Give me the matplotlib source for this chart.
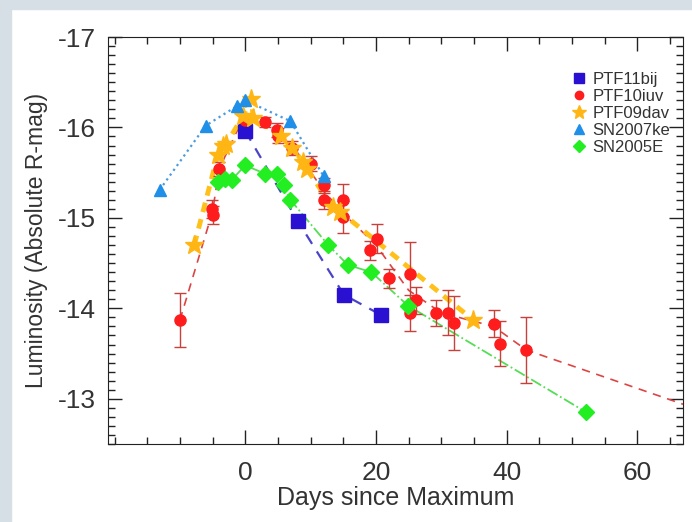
import numpy as np
import matplotlib
matplotlib.use('Agg')
import matplotlib.pyplot as plt
from matplotlib.patches import Rectangle

plt.rcParams['font.family'] = ['Liberation Sans', 'DejaVu Sans']

# PTF11bij
bij_day = [0.0, 8.0, 15.1, 20.7]
bij_mag = [-15.96, -14.97, -14.15, -13.93]

# PTF10iuv (with errors)
iuv_day = [-10.0, -5.1, -5.0, -4.0, 0.0, 3.0, 4.9, 5.0, 7.1, 10.1, 12.0, 12.0, 15.0, 15.0,
           19.1, 20.2, 22.0, 25.2, 25.2, 26.1, 29.2, 31.1, 32.0, 38.0, 39.0, 42.9]
iuv_mag = [-13.87, -15.10, -15.03, -15.54, -16.08, -16.06, -15.97, -15.91, -15.77, -15.60,
           -15.36, -15.20, -15.20, -15.01, -14.64, -14.77, -14.33, -14.38, -13.95, -14.09,
           -13.95, -13.95, -13.84, -13.83, -13.61, -13.54]
iuv_err = [0.30, 0.10, 0.10, 0.08, 0.06, 0.06, 0.08, 0.08, 0.08, 0.08,
           0.08, 0.10, 0.18, 0.18, 0.10, 0.16, 0.10, 0.35, 0.20, 0.15,
           0.14, 0.25, 0.30, 0.15, 0.25, 0.36]
# red dashed curve
iuv_line_day = [-10.0, -5.0, -4.0, -1.0, 2.0, 5.0, 8.0, 12.0, 15.0, 20.0, 25.0, 30.0, 38.0, 43.0, 67.0]
iuv_line_mag = [-13.87, -15.07, -15.54, -16.0, -16.08, -15.95, -15.72, -15.30, -15.05, -14.70,
                -14.20, -13.95, -13.80, -13.54, -12.94]

# PTF09dav
dav_day = [-7.8, -4.2, -3.4, -2.9, -0.3, 0.95, 1.2, 5.5, 7.1, 8.9, 9.4, 13.4, 14.5, 34.9]
dav_mag = [-14.70, -15.70, -15.80, -15.82, -16.13, -16.32, -16.11, -15.91, -15.77, -15.62,
           -15.54, -15.12, -15.07, -13.87]

# SN2007ke
ke_day = [-13.1, -6.05, -1.2, 0.0, 6.9, 12.0]
ke_mag = [-15.31, -16.02, -16.24, -16.30, -16.07, -15.46]

# SN2005E
e_day = [-4.2, -3.1, -2.1, 0.0, 3.0, 4.9, 5.9, 6.9, 12.7, 15.7, 19.3, 24.9, 52.2]
e_mag = [-15.40, -15.43, -15.42, -15.58, -15.49, -15.49, -15.36, -15.20, -14.70, -14.48,
         -14.40, -14.03, -12.85]

fig = plt.figure(figsize=(6.92, 5.22), dpi=100)
fig.patches.append(Rectangle((0, 0), 11/692, 1, transform=fig.transFigure,
                             color='#d6dee6', zorder=0))
fig.patches.append(Rectangle((0, 1 - 9/522), 1, 9/522, transform=fig.transFigure,
                             color='#d6dee6', zorder=0))
ax = fig.add_axes([0.1561, 0.1494, 0.831, 0.7797])

ax.plot(iuv_line_day, iuv_line_mag, ls=(0, (5, 4)), c='#dd4444', lw=1.2, zorder=2)
ax.plot(bij_day, bij_mag, ls=(0, (5, 4)), c='#4a45c8', lw=1.6, zorder=2)
ax.plot(ke_day, ke_mag, ls=':', c='#4a9be0', lw=1.6, zorder=2)
ax.plot(e_day, e_mag, ls='-.', c='#55dd55', lw=1.3, zorder=2)
ax.plot(dav_day, dav_mag, ls=(0, (2, 1.5)), c='#ffc01a', lw=3.5, zorder=3)

ax.errorbar(iuv_day, iuv_mag, yerr=iuv_err, fmt='none', ecolor='#c8403a',
            elinewidth=1.0, capsize=4, zorder=4)

ax.plot(bij_day, bij_mag, 's', c='#2a10d0', ms=10, ls='none', label='PTF11bij', zorder=5)
ax.plot(iuv_day, iuv_mag, 'o', c='#ff1c1c', ms=8, ls='none', label='PTF10iuv', zorder=5)
ax.plot(dav_day, dav_mag, '*', c='#ffb614', ms=14, ls='none', label='PTF09dav', zorder=5)
ax.plot(ke_day, ke_mag, '^', c='#1f8fe8', ms=9, ls='none', label='SN2007ke', zorder=5)
ax.plot(e_day, e_mag, 'D', c='#22ee22', ms=8, ls='none', label='SN2005E', zorder=5)

ax.set_xlim(-21, 67)
ax.set_ylim(-12.5, -17)
ax.set_xticks([0, 20, 40, 60])
ax.set_xticks(np.arange(-20, 67, 5), minor=True)
ax.set_yticks([-17, -16, -15, -14, -13])
ax.set_yticks(np.arange(-17, -12.45, 0.1), minor=True)
ax.set_yticklabels(['-17', '-16', '-15', '-14', '-13'])
ax.tick_params(which='both', direction='in', top=True, right=True, labelsize=19,
               colors='#222222', labelcolor='#333333')
ax.tick_params(which='major', length=10, width=1.0)
ax.tick_params(which='minor', length=5, width=1.0)
ax.tick_params(axis='x', which='major', pad=12)
ax.tick_params(axis='y', which='major', pad=9)
for s in ax.spines.values():
    s.set_color('#222222')

ax.set_xlabel('Days since Maximum', fontsize=18, color='#333333', labelpad=1)
ax.set_ylabel('Luminosity (Absolute R-mag)', fontsize=16.5, color='#333333', labelpad=7)

ax.legend(loc='upper left', bbox_to_anchor=(0.79, 0.935), frameon=False, fontsize=12,
          handlelength=1.0, handletextpad=0.3, labelspacing=0.12, borderpad=0,
          markerscale=0.75, labelcolor='#333333')

fig.savefig('out.png', dpi=100)
